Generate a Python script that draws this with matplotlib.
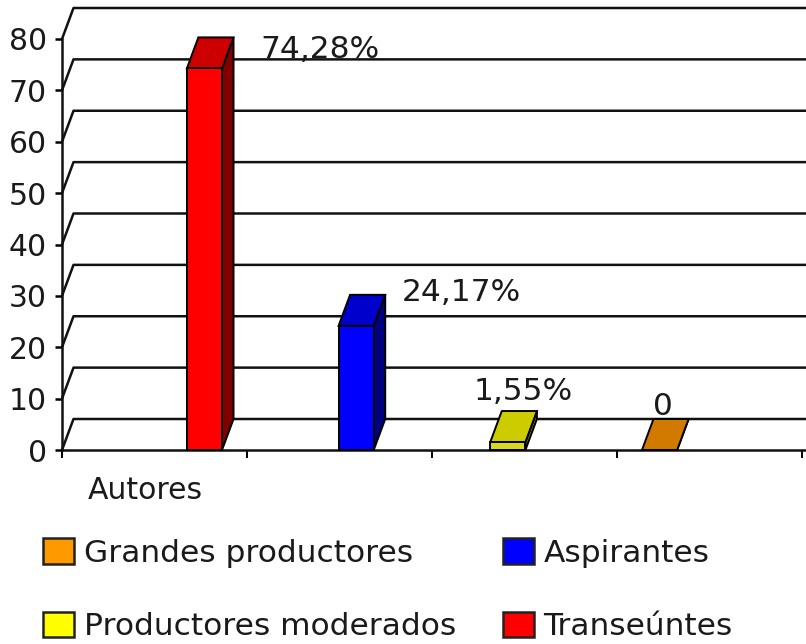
import matplotlib
matplotlib.use("Agg")
import matplotlib.pyplot as plt
from matplotlib.patches import Polygon, Patch

# ---------------- data ----------------
categories = ["Transeúntes", "Aspirantes", "Productores moderados", "Grandes productores"]
values = [74.28, 24.17, 1.55, 0]
value_labels = ["74,28%", "24,17%", "1,55%", "0"]
y_ticks = [0, 10, 20, 30, 40, 50, 60, 70, 80]
group_label = "Autores"

# ---------------- styles ----------------
front_colors = ["#FF0000", "#0000FF", "#D8D820", "#FF9900"]
top_colors = ["#CC0000", "#0000CC", "#CCCC00", "#D27A00"]
side_colors = ["#800000", "#000080", "#808000", "#804C00"]
legend_colors = ["#FF0000", "#0000FF", "#FFFF00", "#FF9900"]
legend_order = [3, 2, 1, 0]
text_color = "#1a1a1a"

# ---------------- layout ----------------
W, H = 806, 644
fig = plt.figure(figsize=(W / 100, H / 100), dpi=100)
ax = fig.add_axes([62 / W, (H - 450) / H, (W - 62) / W, 411 / H])
xmax = (W - 62) / 185
ax.set_xlim(0, xmax)
ax.set_ylim(0, 80)

depth_x = 11.5 / 185
depth_y = 31 / (411 / 80)
bar_x0, bar_step, bar_w = 0.77, 0.82, 0.19
label_offsets = [(0.205, 3.6), (0.153, 6.4), (-0.283, 9.75), (-0.13, 8.4)]
lw = 1.8

# back-wall gridlines (with receding diagonals)
for v in y_ticks:
    ax.plot([0, depth_x, xmax], [v, v + depth_y, v + depth_y],
            color="#111111", lw=lw, clip_on=False, zorder=1, solid_capstyle="butt")

# 3D bars
for i, v in enumerate(values):
    xc = bar_x0 + i * bar_step
    xl, xr = xc - bar_w / 2, xc + bar_w / 2
    side = [(xr, 0), (xr + depth_x, depth_y), (xr + depth_x, v + depth_y), (xr, v)]
    top = [(xl, v), (xr, v), (xr + depth_x, v + depth_y), (xl + depth_x, v + depth_y)]
    front = [(xl, 0), (xr, 0), (xr, v), (xl, v)]
    for poly, col in ((side, side_colors[i]), (top, top_colors[i]), (front, front_colors[i])):
        ax.add_patch(Polygon(poly, closed=True, facecolor=col, edgecolor="black",
                             lw=1.4, zorder=3, clip_on=False))
    ox, oy = label_offsets[i]
    ax.text(xr + ox, v + oy, value_labels[i], ha="left", va="center",
            fontsize=22.5, color=text_color, zorder=4, clip_on=False)

# axes styling
for s in ("top", "right"):
    ax.spines[s].set_visible(False)
for s in ("left", "bottom"):
    ax.spines[s].set_linewidth(lw)
    ax.spines[s].set_color("#111111")
ax.set_yticks(y_ticks)
ax.tick_params(axis="y", direction="out", length=5, width=lw, labelsize=21.5,
               labelcolor=text_color, pad=6)
ax.set_xticks([0, 1, 2, 3, 4])
ax.set_xticklabels([])
ax.tick_params(axis="x", which="major", direction="out", length=6, width=1.4)
ax.set_xticks([0.449], labels=[group_label], minor=True)
ax.tick_params(axis="x", which="minor", length=0, labelsize=21.5,
               labelcolor=text_color, pad=19)
ax.set_facecolor("white")

# legend
handles = [Patch(facecolor=legend_colors[i], edgecolor="#222222", lw=1.8) for i in legend_order]
labels = [categories[i] for i in legend_order]
fig.legend(handles, labels, ncol=2, loc="upper left",
           bbox_to_anchor=(43 / W, 1 - 538 / H), frameon=False, fontsize=22.5,
           handlelength=1.0, handleheight=0.9, handletextpad=0.3,
           columnspacing=1.5, labelspacing=1.4, borderaxespad=0, borderpad=0,
           labelcolor=text_color)

fig.savefig("out.png", dpi=100, facecolor="white")
